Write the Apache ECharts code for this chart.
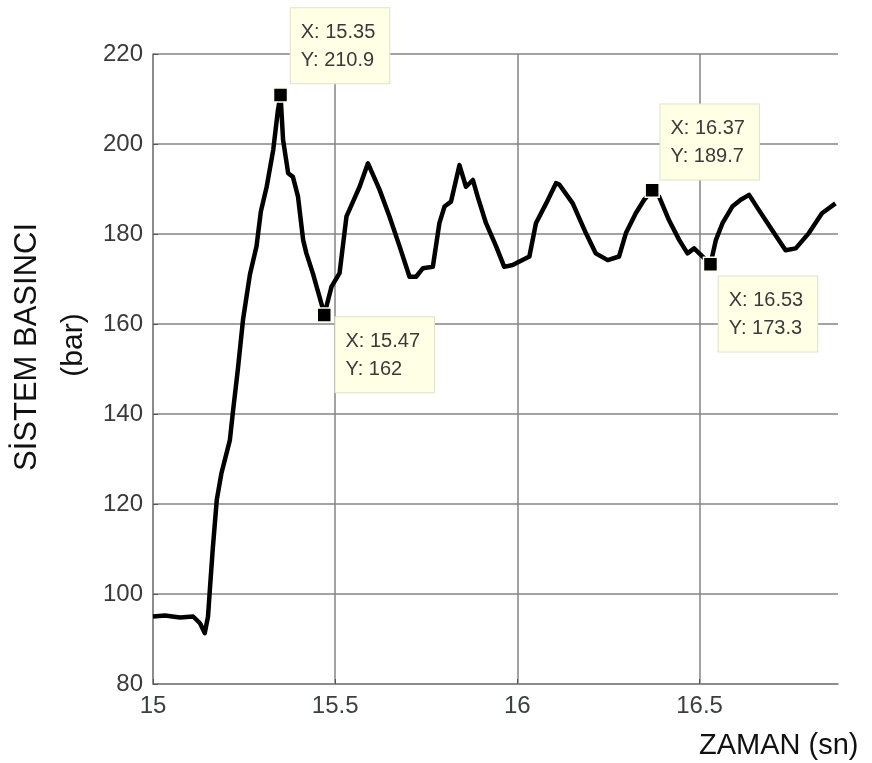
<!DOCTYPE html>
<html>
<head>
<meta charset="utf-8">
<script src="https://cdn.jsdelivr.net/npm/echarts@6/dist/echarts.min.js"></script>
<style>html,body{margin:0;padding:0;background:#fff}#c{width:872px;height:763px}</style>
</head>
<body>
<div id="c"></div>
<script>
// Time (s) and pressure (bar)
var timeValues = [15.000,15.033,15.074,15.110,15.129,15.142,15.151,15.156,15.164,15.175,15.188,15.211,15.219,15.233,15.247,15.266,15.284,15.296,15.312,15.330,15.343,15.350,15.357,15.371,15.384,15.398,15.412,15.421,15.439,15.462,15.470,15.490,15.512,15.531,15.549,15.567,15.590,15.622,15.649,15.677,15.704,15.722,15.741,15.768,15.786,15.800,15.818,15.841,15.859,15.878,15.891,15.914,15.942,15.964,15.987,16.033,16.051,16.079,16.106,16.115,16.152,16.188,16.215,16.248,16.279,16.298,16.325,16.348,16.370,16.389,16.416,16.444,16.467,16.485,16.530,16.545,16.563,16.590,16.613,16.636,16.663,16.699,16.736,16.764,16.800,16.836,16.873];
var pressureValues = [95.0,95.2,94.8,95.0,93.5,91.3,95.0,100.9,110.0,120.9,126.9,134.2,140.2,150.0,160.9,171.0,177.2,185.0,190.5,198.7,207.6,210.9,200.9,193.5,192.7,188.3,178.7,175.7,171.2,164.6,162.0,168.3,171.3,183.9,187.2,190.5,195.7,189.8,183.9,177.2,170.5,170.5,172.4,172.7,182.4,186.1,187.2,195.3,190.5,192.0,188.3,182.4,177.2,172.7,173.1,175.0,182.4,186.8,191.3,191.0,186.8,180.2,175.7,174.2,175.0,180.2,184.6,187.6,189.7,188.3,183.1,178.7,175.7,176.8,173.3,178.7,182.4,186.1,187.6,188.7,185.3,180.9,176.4,176.8,180.2,184.6,186.8];
// Data cursors
var cursorX = [15.35, 15.47, 16.37, 16.53];
var cursorY = [210.9, 162, 189.7, 173.3];
var cursorXText = ['15.35', '15.47', '16.37', '16.53'];
var cursorYText = ['210.9', '162', '189.7', '173.3'];
var labelOffsets = [[18, -79], [19, 10], [16, -78], [16, 20]];

var xTicks = [15, 15.5, 16, 16.5];

var chart = echarts.init(document.getElementById('c'), null, {renderer: 'canvas'});
var lineData = timeValues.map(function (t, i) { return [t, pressureValues[i]]; });
var cursorData = cursorX.map(function (x, i) {
  return {
    value: [x, cursorY[i]],
    label: {
      show: true,
      position: labelOffsets[i],
      formatter: 'X: ' + cursorXText[i] + '\nY: ' + cursorYText[i]
    }
  };
});

var gridColor = '#858585';
var font = '"Liberation Sans", Arial, sans-serif';
chart.setOption({
  animation: false,
  backgroundColor: '#ffffff',
  grid: {left: 153, right: 34, top: 54, bottom: 79},
  xAxis: {
    type: 'value', min: 15, max: 16.88, interval: 0.5,
    axisLine: {show: true, onZero: false, lineStyle: {color: gridColor, width: 1.5}},
    axisTick: {show: true, inside: true, length: 5, lineStyle: {color: '#555'}},
    axisLabel: {
      color: '#3a403e', fontFamily: font, fontSize: 24, margin: 10,
      showMaxLabel: false,
      formatter: function (v) {
        for (var k = 0; k < xTicks.length; k++) { if (Math.abs(v - xTicks[k]) < 1e-6) return String(xTicks[k]); }
        return '';
      }
    },
    splitLine: {show: true, showMaxLine: false, lineStyle: {color: gridColor, width: 1.5}}
  },
  yAxis: {
    type: 'value', min: 80, max: 220, interval: 20,
    axisLine: {show: true, lineStyle: {color: gridColor, width: 1.5}},
    axisTick: {show: true, inside: true, length: 5, lineStyle: {color: '#555'}},
    axisLabel: {color: '#3a3a3a', fontFamily: font, fontSize: 24, margin: 10},
    splitLine: {show: true, lineStyle: {color: gridColor, width: 1.5}}
  },
  series: [
    {
      type: 'line', data: lineData, showSymbol: false, symbol: 'none',
      lineStyle: {color: '#000', width: 4.5, join: 'round'},
      z: 2
    },
    {
      type: 'scatter', data: cursorData, symbol: 'rect', symbolSize: 14,
      itemStyle: {color: '#000', opacity: 1, borderColor: '#fffff0', borderWidth: 1.5},
      label: {
        color: '#3a3a3a', fontFamily: font, fontSize: 20,
        lineHeight: 28, backgroundColor: '#ffffe6', borderColor: '#e2e2cc', borderWidth: 1,
        padding: [10, 14, 9, 10], align: 'left', verticalAlign: 'top'
      },
      z: 5
    }
  ],
  graphic: [
    {
      type: 'text', x: 27, y: 347, rotation: Math.PI / 2,
      style: {text: 'SİSTEM BASINCI', font: '31px ' + font, fill: '#111', align: 'center', verticalAlign: 'middle'}
    },
    {
      type: 'text', x: 74, y: 345, rotation: Math.PI / 2,
      style: {text: '(bar)', font: '30px ' + font, fill: '#111', align: 'center', verticalAlign: 'middle'}
    },
    {
      type: 'text', x: 699, y: 746,
      style: {text: 'ZAMAN (sn)', font: '29px ' + font, fill: '#111', align: 'left', verticalAlign: 'middle'}
    }
  ]
});
</script>
</body>
</html>
